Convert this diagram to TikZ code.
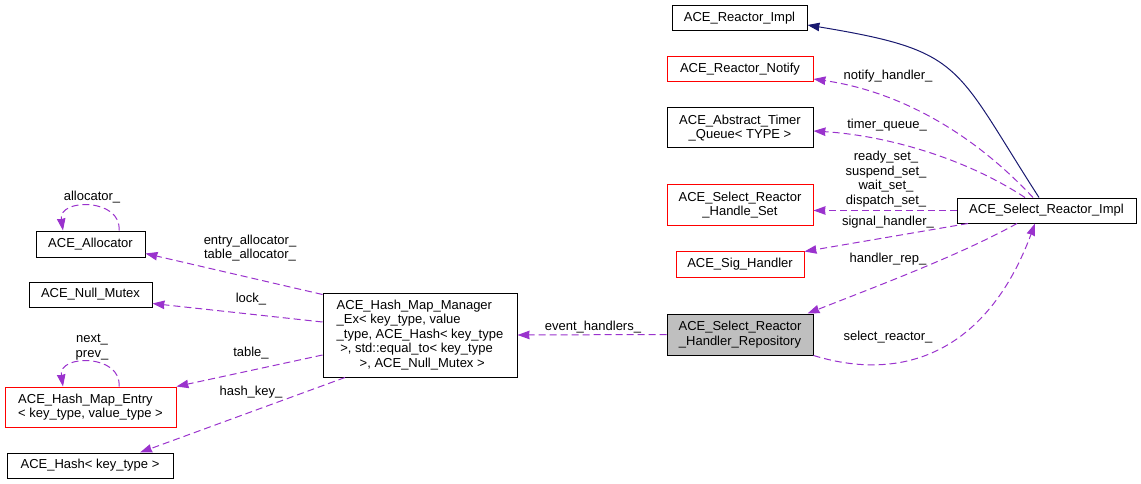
\documentclass[tikz,border=0pt]{standalone}
\usepackage{fontspec}
\setmainfont{Liberation Sans}
\usepackage{tikz}
\usetikzlibrary{arrows.meta,positioning}
\definecolor{boxgray}{RGB}{191,191,191}
\definecolor{edgepurple}{RGB}{154,50,205}
\definecolor{edgenavy}{RGB}{25,25,112}

\begin{document}
\begin{tikzpicture}[
    x=1pt, y=-1pt,
    every node/.style={font=\fontsize{13}{14.5}\selectfont},
    box/.style={rectangle, draw, line width=1pt, align=center, inner sep=0pt, minimum height=25pt},
    lbl/.style={align=center, inner sep=0pt},
    member/.style={->, >={Stealth[length=12pt, width=8.5pt, inset=0.5pt]}, draw=edgepurple, line width=1pt, dash pattern=on 7pt off 4pt},
    inherit/.style={->, >={Stealth[length=12pt, width=8.5pt, inset=0.5pt]}, draw=edgenavy, line width=1pt}
]
    \useasboundingbox (0,0) rectangle (1141,484);

    % left column
    \node[box, minimum width=109pt, minimum height=26pt] (alloc) at (90.5,244) {ACE\_Allocator};
    \node[box, minimum width=123pt] (nullmtx) at (90.5,294.5) {ACE\_Null\_Mutex};
    \node[box, draw=red, align=left, minimum width=171pt, minimum height=40pt] (entry) at (90.5,407) {ACE\_Hash\_Map\_Entry\\< key\_type, value\_type >};
    \node[box, minimum width=166pt] (hash) at (90,465.5) {ACE\_Hash< key\_type >};

    % middle
    \node[box, align=left, minimum width=194pt, minimum height=84pt] (manager) at (420,335) {ACE\_Hash\_Map\_Manager\\\_Ex< key\_type, value\\\_type, ACE\_Hash< key\_type\\\hspace{3.6pt}>, std::equal\_to< key\_type\\\hspace{23pt}>, ACE\_Null\_Mutex >};
    \node[box, fill=boxgray, minimum width=146pt, minimum height=41pt] (repo) at (740,334.5) {ACE\_Select\_Reactor\\\_Handler\_Repository};

    % right column
    \node[box, minimum width=135pt] (rimpl) at (739.5,18.5) {ACE\_Reactor\_Impl};
    \node[box, draw=red, minimum width=146pt] (notify) at (740,69.5) {ACE\_Reactor\_Notify};
    \node[box, minimum width=146pt, minimum height=40pt] (timer) at (740,128) {ACE\_Abstract\_Timer\\\_Queue< TYPE >};
    \node[box, draw=red, minimum width=146pt, minimum height=40pt] (hset) at (740,205) {ACE\_Select\_Reactor\\\_Handle\_Set};
    \node[box, draw=red, minimum width=128pt, minimum height=26pt] (sig) at (740,264) {ACE\_Sig\_Handler};
    \node[box, minimum width=179pt] (simpl) at (1046.5,210.5) {ACE\_Select\_Reactor\_Impl};

    % labels
    \node[lbl] (lnotify) at (888,76) {notify\_handler\_};
    \node[lbl] (ltimer) at (887,125) {timer\_queue\_};
    \node[lbl] (lsets) at (886,179) {ready\_set\_\\suspend\_set\_\\wait\_set\_\\dispatch\_set\_};
    \node[lbl] (lsig) at (888,222) {signal\_handler\_};
    \node[lbl] (lrep) at (888,259) {handler\_rep\_};
    \node[lbl] (lsel) at (888,337) {select\_reactor\_};
    \node[lbl] (levt) at (593,327) {event\_handlers\_};
    \node[lbl] (lalloc) at (250,248) {entry\_allocator\_\\table\_allocator\_};
    \node[lbl] (llock) at (251,299) {lock\_};
    \node[lbl] (ltable) at (251,353) {table\_};
    \node[lbl] (lhash) at (251,392) {hash\_key\_};
    \node[lbl] (lallocself) at (92,197) {allocator\_};
    \node[lbl] (lentryself) at (92,347) {next\_\\prev\_};

    % edges
    \draw[inherit] ([xshift=-7.5pt]simpl.north) .. controls (953,64) and (965,51) .. ([yshift=-6.5pt]rimpl.east);
    \draw[member] ([xshift=-13.5pt]simpl.north) .. controls (965,125) and (890,90) .. ([yshift=-9.5pt]notify.east);
    \draw[member] ([xshift=-21.5pt]simpl.north) .. controls (960,155) and (880,135) .. ([yshift=-3pt]timer.east);
    \draw[member] (simpl.west) -- (hset.east |- simpl.west);
    \draw[member] ([xshift=-78.5pt]simpl.south) -- ([yshift=-1pt]sig.north east);
    \draw[member] ([xshift=-29.5pt]simpl.south) .. controls (960,255) and (880,285) .. ([xshift=-6pt]repo.north east);
    \draw[member] (repo.south east) .. controls (910,385) and (990,345) .. ([xshift=-11.5pt]simpl.south);
    \draw[member] (repo.west) -- (manager.east);
    \draw[member] ([yshift=-2pt]manager.north west) -- ([yshift=4pt]alloc.south east);
    \draw[member] ([yshift=13pt]manager.west) -- ([yshift=4pt]nullmtx.south east);
    \draw[member] ([yshift=-20pt]manager.west) -- (entry.north east);
    \draw[member] ([xshift=-75pt]manager.south) -- ([xshift=50pt]hash.north);
    \draw[member] ([xshift=28.5pt]alloc.north) .. controls (122,198) and (58,198) .. ([xshift=-27.5pt]alloc.north);
    \draw[member] ([xshift=28.5pt]entry.north) .. controls (122,354) and (58,354) .. ([xshift=-27.5pt]entry.north);
\end{tikzpicture}
\end{document}
